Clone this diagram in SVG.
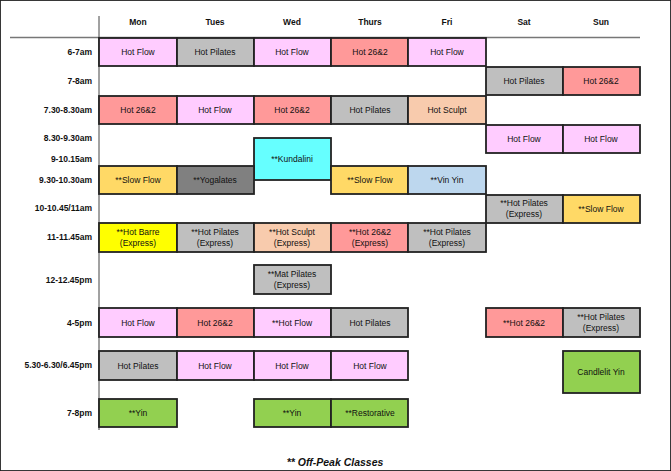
<svg xmlns="http://www.w3.org/2000/svg" width="671" height="471" viewBox="0 0 671 471">
<style>
text{font-family:"Liberation Sans",Arial,sans-serif;font-size:8.5px;fill:#111}
.h{font-weight:bold;text-anchor:middle}
.l{font-weight:bold;text-anchor:end}
.c{text-anchor:middle}
rect{stroke:#222;stroke-width:1.8}
.pk{fill:#FFCCFF}.gr{fill:#BFBFBF}.sa{fill:#FF9999}.pe{fill:#F8CBAD}.cy{fill:#66FFFF}.ye{fill:#FFD966}.dg{fill:#808080}.yl{fill:#FFFF00}.gn{fill:#92D050}
</style>
<rect width="671" height="471" fill="#fff" stroke="none"/>
<g id="grid">
<line x1="10" y1="37.5" x2="640" y2="37.5" stroke="#777" stroke-width="1.5"/>
<line x1="99" y1="16" x2="99" y2="430" stroke="#444" stroke-width="1"/>
</g>
<g id="headers">
<text class="h" x="138" y="25">Mon</text><text class="h" x="215" y="25">Tues</text><text class="h" x="292" y="25">Wed</text><text class="h" x="370" y="25">Thurs</text><text class="h" x="447" y="25">Fri</text><text class="h" x="524" y="25">Sat</text><text class="h" x="601" y="25">Sun</text>
</g>
<g id="times">
<text class="l" x="92" y="55">6-7am</text><text class="l" x="92" y="84">7-8am</text><text class="l" x="92" y="113">7.30-8.30am</text><text class="l" x="92" y="141">8.30-9.30am</text><text class="l" x="92" y="162">9-10.15am</text><text class="l" x="92" y="183">9.30-10.30am</text><text class="l" x="92" y="211">10-10.45/11am</text><text class="l" x="92" y="240">11-11.45am</text><text class="l" x="92" y="283">12-12.45pm</text><text class="l" x="92" y="326">4-5pm</text><text class="l" x="92" y="368">5.30-6.30/6.45pm</text><text class="l" x="92" y="416">7-8pm</text>
</g>
<g id="r1">
<rect class="pk" x="99" y="38" width="78" height="28"/><text class="c" x="138" y="55">Hot Flow</text>
<rect class="gr" x="177" y="38" width="77" height="28"/><text class="c" x="215" y="55">Hot Pilates</text>
<rect class="pk" x="254" y="38" width="77" height="28"/><text class="c" x="292" y="55">Hot Flow</text>
<rect class="sa" x="331" y="38" width="77" height="28"/><text class="c" x="370" y="55">Hot 26&amp;2</text>
<rect class="pk" x="408" y="38" width="78" height="28"/><text class="c" x="447" y="55">Hot Flow</text>
</g>
<g id="r2">
<rect class="gr" x="486" y="67" width="77" height="28"/><text class="c" x="524" y="84">Hot Pilates</text>
<rect class="sa" x="563" y="67" width="77" height="28"/><text class="c" x="601" y="84">Hot 26&amp;2</text>
</g>
<g id="r3">
<rect class="sa" x="99" y="96" width="78" height="28"/><text class="c" x="138" y="113">Hot 26&amp;2</text>
<rect class="pk" x="177" y="96" width="77" height="28"/><text class="c" x="215" y="113">Hot Flow</text>
<rect class="sa" x="254" y="96" width="77" height="28"/><text class="c" x="292" y="113">Hot 26&amp;2</text>
<rect class="gr" x="331" y="96" width="77" height="28"/><text class="c" x="370" y="113">Hot Pilates</text>
<rect class="pe" x="408" y="96" width="78" height="28"/><text class="c" x="447" y="113">Hot Sculpt</text>
</g>
<g id="r4">
<rect class="pk" x="486" y="125" width="77" height="28"/><text class="c" x="524" y="142">Hot Flow</text>
<rect class="pk" x="563" y="125" width="77" height="28"/><text class="c" x="601" y="142">Hot Flow</text>
</g>
<g id="r5">
<rect class="cy" x="254" y="138" width="77" height="42"/><text class="c" x="292" y="162">**Kundalini</text>
<rect class="ye" x="99" y="166" width="78" height="28"/><text class="c" x="138" y="183">**Slow Flow</text>
<rect class="dg" x="177" y="166" width="77" height="28"/><text class="c" x="215" y="183">**Yogalates</text>
<rect class="ye" x="331" y="166" width="77" height="28"/><text class="c" x="370" y="183">**Slow Flow</text>
<rect x="408" y="166" width="78" height="28" fill="#BDD7EE"/><text class="c" x="447" y="183">**Vin Yin</text>
</g>
<g id="r6">
<rect class="gr" x="486" y="195" width="77" height="28"/><text class="c" x="524" y="206">**Hot Pilates</text><text class="c" x="524" y="217">(Express)</text>
<rect class="ye" x="563" y="195" width="77" height="28"/><text class="c" x="601" y="212">**Slow Flow</text>
</g>
<g id="r7">
<rect class="yl" x="99" y="223" width="78" height="29"/><text class="c" x="138" y="235">**Hot Barre</text><text class="c" x="138" y="246">(Express)</text>
<rect class="gr" x="177" y="223" width="77" height="29"/><text class="c" x="215" y="235">**Hot Pilates</text><text class="c" x="215" y="246">(Express)</text>
<rect class="pe" x="254" y="223" width="77" height="29"/><text class="c" x="292" y="235">**Hot Sculpt</text><text class="c" x="292" y="246">(Express)</text>
<rect class="sa" x="331" y="223" width="77" height="29"/><text class="c" x="370" y="235">**Hot 26&amp;2</text><text class="c" x="370" y="246">(Express)</text>
<rect class="gr" x="408" y="223" width="78" height="29"/><text class="c" x="447" y="235">**Hot Pilates</text><text class="c" x="447" y="246">(Express)</text>
</g>
<g id="r8">
<rect class="gr" x="254" y="265" width="77" height="29"/><text class="c" x="292" y="277">**Mat Pilates</text><text class="c" x="292" y="288">(Express)</text>
</g>
<g id="r9">
<rect class="pk" x="99" y="308" width="78" height="29"/><text class="c" x="138" y="326">Hot Flow</text>
<rect class="sa" x="177" y="308" width="77" height="29"/><text class="c" x="215" y="326">Hot 26&amp;2</text>
<rect class="pk" x="254" y="308" width="77" height="29"/><text class="c" x="292" y="326">**Hot Flow</text>
<rect class="gr" x="331" y="308" width="77" height="29"/><text class="c" x="370" y="326">Hot Pilates</text>
<rect class="sa" x="486" y="308" width="77" height="29"/><text class="c" x="524" y="326">**Hot 26&amp;2</text>
<rect class="gr" x="563" y="308" width="77" height="29"/><text class="c" x="601" y="320">**Hot Pilates</text><text class="c" x="601" y="331">(Express)</text>
</g>
<g id="r10">
<rect class="gr" x="99" y="351" width="78" height="29"/><text class="c" x="138" y="369">Hot Pilates</text>
<rect class="pk" x="177" y="351" width="77" height="29"/><text class="c" x="215" y="369">Hot Flow</text>
<rect class="pk" x="254" y="351" width="77" height="29"/><text class="c" x="292" y="369">Hot Flow</text>
<rect class="pk" x="331" y="351" width="77" height="29"/><text class="c" x="370" y="369">Hot Flow</text>
<rect class="gn" x="563" y="351" width="77" height="42"/><text class="c" x="601" y="375">Candlelit Yin</text>
</g>
<g id="r11">
<rect class="gn" x="99" y="399" width="78" height="28"/><text class="c" x="138" y="416">**Yin</text>
<rect class="gn" x="254" y="399" width="77" height="28"/><text class="c" x="292" y="416">**Yin</text>
<rect class="gn" x="331" y="399" width="77" height="28"/><text class="c" x="370" y="416">**Restorative</text>
</g>
<text x="335" y="466" text-anchor="middle" style="font-size:10.5px;font-weight:bold;font-style:italic">** Off-Peak Classes</text>
</svg>
